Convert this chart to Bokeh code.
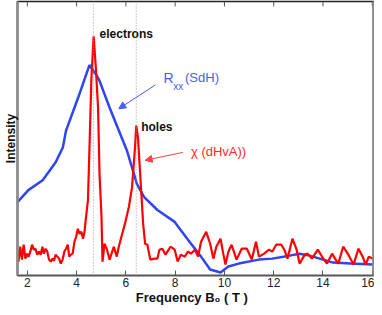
from bokeh.plotting import figure
from bokeh.embed import file_html
from bokeh.resources import INLINE
from bokeh.core.properties import value
from bokeh.models import Range1d, LinearAxis, FixedTicker, Span, Arrow, NormalHead

# --- data -------------------------------------------------------------
x_ticks = [2, 4, 6, 8, 10, 12, 14, 16]

# chi (dHvA) -- red
chi_x = [1.60, 1.64, 1.71, 1.78, 1.85, 1.92, 1.99, 2.05, 2.12, 2.19, 2.26, 2.33, 2.40, 2.47,
         2.54, 2.61, 2.67, 2.74, 2.81, 2.88, 2.95, 3.02, 3.08, 3.15, 3.22, 3.29, 3.36, 3.43,
         3.50, 3.57, 3.64, 3.70, 3.77, 3.84, 3.91, 3.98, 4.05, 4.12, 4.19, 4.26, 4.32, 4.36,
         4.46, 4.53, 4.60, 4.69, 4.78, 4.87, 4.93, 5.01, 5.05, 5.13, 5.22, 5.34, 5.51, 5.63,
         5.71, 5.84, 5.96, 6.12, 6.25, 6.37, 6.42, 6.49, 6.58, 6.70, 6.78, 6.87, 6.99, 7.15,
         7.28, 7.36, 7.48, 7.61, 7.81, 7.98, 8.10, 8.23, 8.39, 8.52, 8.64, 8.80, 8.93, 9.05,
         9.26, 9.42, 9.55, 9.67, 9.84, 9.96, 10.04, 10.16, 10.29, 10.49, 10.70, 10.91, 11.11,
         11.28, 11.40, 11.61, 11.81, 11.94, 12.10, 12.31, 12.43, 12.56, 12.76, 12.93, 13.05,
         13.26, 13.38, 13.55, 13.79, 13.96, 14.16, 14.37, 14.49, 14.62, 14.82, 15.03, 15.24,
         15.44, 15.61, 15.73, 15.86, 16.02]
chi_y = [24, 14, 29, 16, 31, 17, 22, 19, 24, 31, 26, 27, 21, 24,
         21, 29, 22, 27, 24, 16, 14, 17, 15, 21, 19, 17, 12, 16,
         24, 27, 31, 19, 21, 22, 34, 39, 47, 42, 44, 37, 44, 54,
         76, 136, 199, 241, 209, 169, 102, 59, 14, 32, 27, 16, 29, 19,
         29, 41, 52, 69, 89, 129, 151, 139, 102, 52, 32, 31, 16, 17,
         17, 26, 27, 21, 29, 26, 14, 21, 19, 24, 22, 26, 19, 34,
         44, 32, 17, 29, 37, 21, 11, 24, 31, 16, 27, 27, 16,
         34, 19, 22, 26, 24, 31, 31, 26, 17, 37, 26, 12,
         21, 22, 17, 26, 19, 12, 22, 17, 12, 29, 21, 11,
         27, 19, 11, 19, 17]

# R_xx (SdH) -- blue
rxx_x = [1.60, 2.04, 2.62, 3.15, 3.44, 3.57, 4.06, 4.52, 4.80, 4.93, 5.34, 6.04, 6.45,
         6.74, 7.28, 7.98, 8.52, 9.05, 9.42, 9.84, 10.16, 10.58, 11.40, 11.94, 12.64,
         13.05, 13.46, 14.00, 14.41, 15.11, 16.02]
rxx_y = [74, 86, 96, 114, 129, 146, 179, 212, 202, 196, 169, 126, 92,
         79, 66, 54, 36, 19, 6, 3, 9, 12, 16, 17, 20,
         22, 20, 16, 13, 12, 11]

peak_positions = [4.68, 6.42]

FONT = "Liberation Sans"
Y_TOP = 276

p = figure(width=374, height=307, x_range=Range1d(1.6, 16.05), y_range=Range1d(0, Y_TOP),
           output_backend="svg", toolbar_location=None,
           min_border_left=0, min_border_right=1, min_border_top=1, min_border_bottom=0)
p.grid.visible = False
p.outline_line_color = "#222222"
p.outline_line_width = 1.5
p.background_fill_color = "white"
p.border_fill_color = "white"

# bottom axis
xa = p.xaxis[0]
xa.ticker = FixedTicker(ticks=x_ticks)
xa.major_tick_in = 5
xa.major_tick_out = 0
xa.minor_tick_line_color = None
xa.major_tick_line_color = "#555555"
xa.axis_line_color = "#555555"
xa.axis_line_width = 1.5
xa.major_label_text_font = FONT
xa.major_label_text_font_size = "12px"
xa.major_label_text_color = "#222222"
xa.major_label_standoff = 2
xa.axis_label = "Frequency   B\u2080 ( T )"
xa.axis_label_text_font = FONT
xa.axis_label_text_font_style = "bold"
xa.axis_label_text_font_size = "13px"
xa.axis_label_text_color = "#111111"
xa.axis_label_standoff = 0

# left axis
ya = p.yaxis[0]
ya.ticker = FixedTicker(ticks=[])
ya.major_tick_in = 0
ya.major_tick_out = 0
ya.minor_tick_line_color = None
ya.major_label_standoff = 0
ya.axis_line_color = "#8a8a8a"
ya.axis_line_width = 2.5
ya.axis_label = "Intensity"
ya.axis_label_text_font = FONT
ya.axis_label_text_font_style = "bold"
ya.axis_label_text_font_size = "12px"
ya.axis_label_text_color = "#111111"
ya.axis_label_standoff = 0

# right axis (line only)
right = LinearAxis(ticker=FixedTicker(ticks=[]), major_tick_in=0, major_tick_out=0,
                   minor_tick_line_color=None, major_label_standoff=0,
                   axis_line_color="#8a8a8a", axis_line_width=2.5)
p.add_layout(right, "right")

# top ticks (inward, no labels)
p.segment(x0=x_ticks, y0=[Y_TOP] * len(x_ticks), x1=x_ticks, y1=[Y_TOP - 5] * len(x_ticks),
          line_color="#555555", line_width=1)

for loc in peak_positions:
    p.add_layout(Span(location=loc, dimension="height", line_color="#999999",
                      line_dash="1 2", line_width=1))

p.line(rxx_x, rxx_y, line_color="#2f44f2", line_width=2.5)
p.line(chi_x, chi_y, line_color="#ff0000", line_width=2.2)

# annotations
p.text(x=[4.93, 6.62], y=[243, 150], text=["electrons", "holes"],
       text_font=value(FONT), text_font_style="bold", text_font_size="12px",
       text_baseline="middle", text_align="left", text_color="#111111")
p.text(x=[7.53], y=[199], text=["R"], text_font=value(FONT), text_font_size="14px",
       text_baseline="middle", text_align="left", text_color="#4a5df5")
p.text(x=[7.92], y=[190], text=["xx"], text_font=value(FONT), text_font_size="10px",
       text_baseline="middle", text_align="left", text_color="#4a5df5")
p.text(x=[8.40], y=[199], text=["(SdH)"], text_font=value(FONT), text_font_size="13px",
       text_baseline="middle", text_align="left", text_color="#4a5df5")
p.text(x=[8.64], y=[125], text=["\u03c7 (dHvA))"], text_font=value(FONT), text_font_size="13px",
       text_baseline="middle", text_align="left", text_color="#ff2a2a")

p.add_layout(Arrow(x_start=7.20, y_start=192, x_end=5.71, y_end=168,
                   line_color="#4a5df5", line_width=1,
                   end=NormalHead(size=7, fill_color="#4a5df5", line_color="#4a5df5")))
p.add_layout(Arrow(x_start=8.31, y_start=124, x_end=6.78, y_end=116,
                   line_color="#ff4040", line_width=1,
                   end=NormalHead(size=7, fill_color="#ff4040", line_color="#ff4040")))

open("out.html", "w").write(file_html(p, INLINE))
